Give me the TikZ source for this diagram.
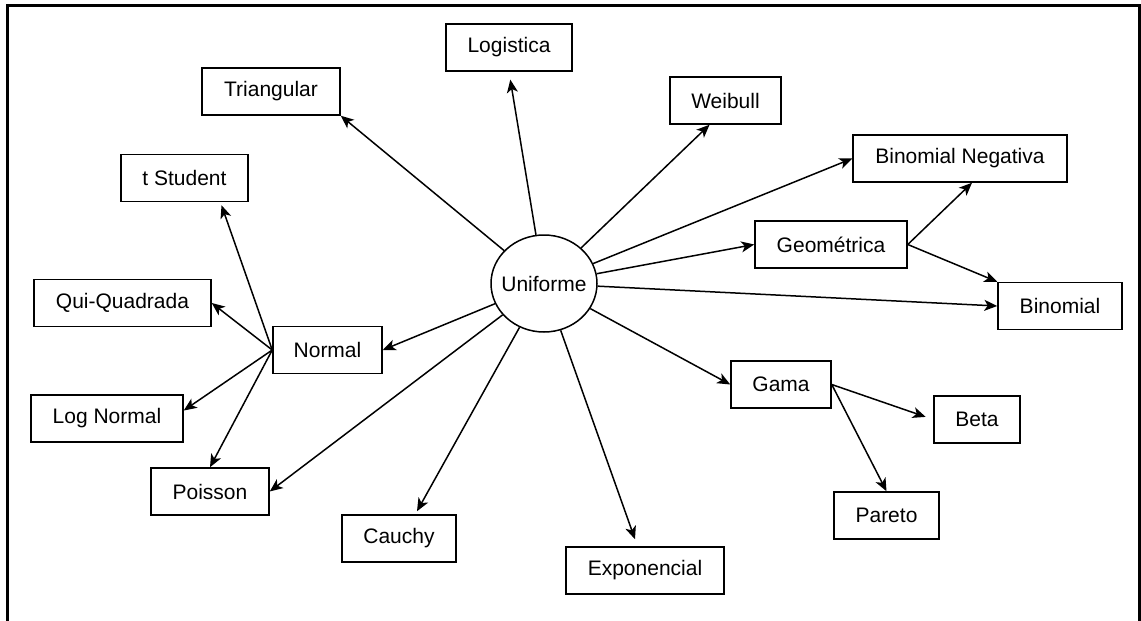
\documentclass[tikz,border=0pt]{standalone}
\usepackage{fontspec}
\setmainfont{Liberation Sans}
\usetikzlibrary{positioning,shapes,arrows.meta}

\begin{document}
\begin{tikzpicture}[x=1pt,y=-1pt]
\tikzstyle{every node}+=[inner sep=0pt,font=\fontsize{21}{25}\selectfont]
\tikzstyle{distbox}=[draw,line width=1.5pt,rectangle,minimum height=47pt]
\tikzstyle{link}=[line width=1.5pt,-{Stealth[length=13pt,width=11pt,inset=3.5pt]}]
\useasboundingbox (0,0) rectangle (1141,621);
\draw [line width=2.2pt] (7.5,621) -- (7.5,5.5) -- (1139.5,5.5) -- (1139.5,621);
\node [draw,line width=1.5pt,ellipse,minimum width=106pt,minimum height=97pt] (uni) at (544,283.5) {\makebox[0pt]{Uniforme}};
\node [distbox,minimum width=138pt] (tri) at (271,91.5) {Triangular};
\node [distbox,minimum width=126pt] (logi) at (509,47.5) {Logistica};
\node [distbox,minimum width=111pt] (weib) at (725.5,100.5) {Weibull};
\node [distbox,minimum width=214pt] (binneg) at (960,158.5) {Binomial Negativa};
\node [distbox,minimum width=152pt] (geo) at (831,244.5) {Geométrica};
\node [distbox,minimum width=124pt] (binom) at (1060,306) {Binomial};
\node [distbox,minimum width=100pt] (gama) at (781,384.5) {Gama};
\node [distbox,minimum width=86pt] (beta) at (977,419.5) {Beta};
\node [distbox,minimum width=105pt] (pare) at (886.5,515.5) {Pareto};
\node [distbox,minimum width=158pt] (expo) at (645,570.5) {Exponencial};
\node [distbox,minimum width=114pt] (cau) at (399,538.5) {Cauchy};
\node [distbox,minimum width=118pt] (pois) at (210,491.5) {Poisson};
\node [distbox,minimum width=109pt] (norm) at (327.5,350) {Normal};
\node [distbox,minimum width=152pt] (logn) at (107,418.5) {Log Normal};
\node [distbox,minimum width=177pt] (qui) at (122.5,303) {Qui-Quadrada};
\node [distbox,minimum width=127pt] (tst) at (184.5,178) {t Student};
\draw [link] (uni) -- (tri.south east);
\draw [link,shorten >=8pt] (uni) -- (logi.south);
\draw [link] (uni) -- ([xshift=-16pt]weib.south);
\draw [link] (uni) -- (binneg.west);
\draw [link] (uni) -- (geo.west);
\draw [link] (uni) -- (binom.west);
\draw [link] (uni) -- (gama.west);
\draw [link] (uni) -- ([xshift=-10pt,yshift=7pt]expo.north);
\draw [link] (uni) -- ([xshift=18pt,yshift=3pt]cau.north);
\draw [link] (uni) -- (pois.east);
\draw [link] (uni) -- (norm.east);
\draw [link] (norm.west) -- ([xshift=37pt,yshift=-3pt]tst.south);
\draw [link] (norm.west) -- (qui.east);
\draw [link] (norm.west) -- ([yshift=8pt]logn.east);
\draw [link] (norm.west) -- (pois.north);
\draw [link] (geo.east) -- ([xshift=12pt]binneg.south);
\draw [link] (geo.east) -- (binom.north west);
\draw [link,shorten >=8pt] (gama.east) -- (beta.west);
\draw [link] (gama.east) -- (pare.north);
\end{tikzpicture}
\end{document}
